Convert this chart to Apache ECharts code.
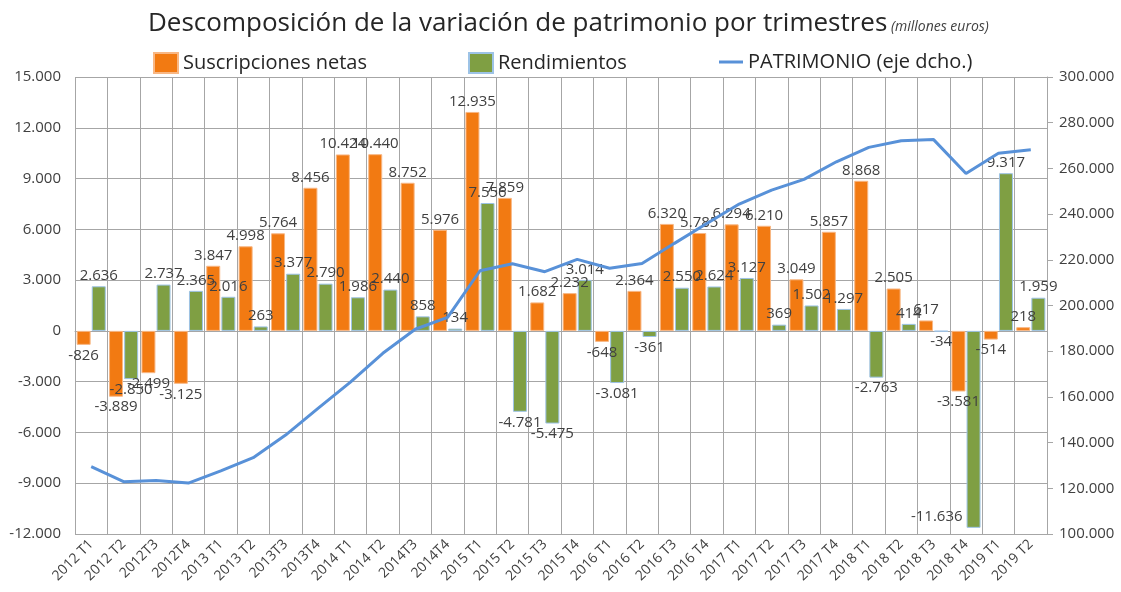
<!DOCTYPE html>
<html>
<head>
<meta charset="utf-8">
<script src="https://cdn.jsdelivr.net/npm/echarts@6/dist/echarts.min.js"></script>
<style>
  html, body { margin: 0; padding: 0; background: #fff; }
  #chart { width: 1121px; height: 592px; }
</style>
</head>
<body>
<div id="chart"></div>
<script>
// trimestres
var categories = ['2012 T1', '2012 T2', '2012T3', '2012T4', '2013 T1', '2013 T2', '2013T3', '2013T4',
  '2014 T1', '2014 T2', '2014T3', '2014T4', '2015 T1', '2015 T2', '2015 T3', '2015 T4',
  '2016 T1', '2016 T2', '2016 T3', '2016 T4', '2017 T1', '2017 T2', '2017 T3', '2017 T4',
  '2018 T1', '2018 T2', '2018 T3', '2018 T4', '2019 T1', '2019 T2'];

var suscripciones = [-826, -3889, -2499, -3125, 3847, 4998, 5764, 8456,
  10424, 10440, 8752, 5976, 12935, 7859, 1682, 2232,
  -648, 2364, 6320, 5785, 6294, 6210, 3049, 5857,
  8868, 2505, 617, -3581, -514, 218];

var rendimientos = [2636, -2850, 2737, 2365, 2016, 263, 3377, 2790,
  1986, 2440, 858, 134, 7556, -4781, -5475, 3014,
  -3081, -361, 2550, 2624, 3127, 369, 1502, 1297,
  -2763, 414, -34, -11636, 9317, 1959];

var patrimonio = [129500, 122900, 123400, 122300, 127600, 133400, 143300, 155000,
  166500, 179100, 189600, 194800, 215200, 218300, 214800, 220200,
  216300, 218400, 227200, 235900, 244400, 250500, 255200, 262900,
  269200, 272100, 272600, 257800, 266600, 268200];

var FONT = 'Open Sans';
var TXT = '#404040';
var GRID = '#a6a6a6';
var Y_MIN = -12000;

function fmt(v) {
  var s = Math.abs(Math.round(v)).toString().replace(/\B(?=(\d{3})+(?!\d))/g, '.');
  return (v < 0 ? '-' : '') + s;
}

function barData(arr) {
  return arr.map(function (v) {
    if (v < Y_MIN + 1500) {
      // no room below the bar: label goes to its left, near the bottom
      return { value: v, label: { position: ['0%', '100%'], align: 'right', verticalAlign: 'bottom', offset: [-4, -4] } };
    }
    return { value: v, label: { position: v < 0 ? 'bottom' : 'top' } };
  });
}

var chart = echarts.init(document.getElementById('chart'));
chart.setOption({
  animation: false,
  textStyle: { fontFamily: FONT },
  title: {
    text: '{a|Descomposición de la variación de patrimonio por trimestres}{b| (millones euros)}',
    left: 143,
    top: 6,
    textStyle: {
      fontWeight: 'normal',
      rich: {
        a: { fontFamily: FONT, fontSize: 26, fontWeight: 'normal', color: '#262626' },
        b: { fontFamily: FONT, fontSize: 14, fontStyle: 'italic', fontWeight: 'normal', color: '#404040', padding: [6, 0, 0, 0] }
      }
    }
  },
  legend: [
    { left: 148, top: 47, itemWidth: 24, itemHeight: 20, data: [{ name: 'Suscripciones netas', icon: 'rect' }],
      textStyle: { fontFamily: FONT, fontSize: 20, color: '#262626' } },
    { left: 463, top: 47, itemWidth: 24, itemHeight: 20, data: [{ name: 'Rendimientos', icon: 'rect' }],
      textStyle: { fontFamily: FONT, fontSize: 20, color: '#262626' } },
    { left: 714, top: 47, itemWidth: 24, itemHeight: 3,
      data: [{ name: 'PATRIMONIO (eje dcho.)', icon: 'path://M0,0 L24,0 L24,3 L0,3 Z' }],
      textStyle: { fontFamily: FONT, fontSize: 20, color: '#262626', lineHeight: 20 } }
  ],
  grid: { left: 75, right: 74, top: 77, bottom: 58, containLabel: false },
  xAxis: {
    type: 'category',
    data: categories,
    boundaryGap: true,
    axisLine: { show: true, lineStyle: { color: GRID } },
    axisTick: { show: false },
    splitLine: { show: true, interval: 0, lineStyle: { color: GRID, width: 1 } },
    axisLabel: { interval: 0, rotate: 45, fontFamily: FONT, fontSize: 14, color: TXT, margin: 8 }
  },
  yAxis: [
    {
      type: 'value',
      min: Y_MIN, max: 15000, interval: 3000,
      axisLine: { show: false },
      axisTick: { show: false },
      splitLine: { lineStyle: { color: GRID, width: 1 } },
      axisLabel: { fontFamily: FONT, fontSize: 15, color: TXT, margin: 14, formatter: fmt }
    },
    {
      type: 'value',
      min: 100000, max: 300000, interval: 20000,
      position: 'right',
      axisLine: { show: true, lineStyle: { color: GRID } },
      axisTick: { show: true, length: 6, lineStyle: { color: GRID } },
      splitLine: { show: false },
      axisLabel: { fontFamily: FONT, fontSize: 15, color: TXT, margin: 12, formatter: fmt }
    }
  ],
  series: [
    {
      name: 'Suscripciones netas',
      type: 'bar',
      yAxisIndex: 0,
      barWidth: 14,
      barGap: '8%',
      data: barData(suscripciones),
      itemStyle: { color: '#f27a12', borderColor: '#f8b784', borderWidth: 1 },
      label: { show: true, fontFamily: FONT, fontSize: 15, color: TXT, distance: 3, formatter: function (p) { return fmt(p.value); } },
      z: 2
    },
    {
      name: 'Rendimientos',
      type: 'bar',
      yAxisIndex: 0,
      barWidth: 14,
      data: barData(rendimientos),
      itemStyle: { color: '#7f9f43', borderColor: '#9dc3e6', borderWidth: 1 },
      label: { show: true, fontFamily: FONT, fontSize: 15, color: TXT, distance: 3, formatter: function (p) { return fmt(p.value); } },
      z: 2
    },
    {
      name: 'PATRIMONIO (eje dcho.)',
      type: 'line',
      yAxisIndex: 1,
      data: patrimonio,
      symbol: 'none',
      lineStyle: { color: '#5891d8', width: 3 },
      itemStyle: { color: '#5891d8' },
      z: 5
    }
  ]
});
</script>
</body>
</html>
